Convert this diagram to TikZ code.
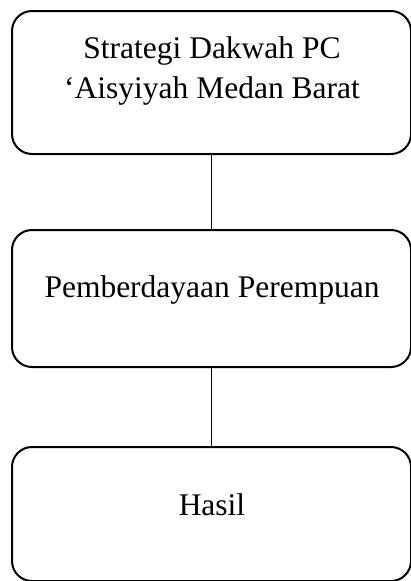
\documentclass[tikz,border=0pt]{standalone}
\usepackage{fontspec}
\setmainfont{Liberation Serif}
\begin{document}
\begin{tikzpicture}[x=1pt,y=-1pt,
  box/.style={draw, line width=2pt, rounded corners=20pt, minimum width=399pt, inner sep=0pt, anchor=north},
  lbl/.style={font=\fontsize{31.5}{40}\selectfont, inner sep=0pt, anchor=base},
  link/.style={draw, line width=1pt}]
\useasboundingbox (0,0) rectangle (410,581);
\node[box, minimum height=143pt] (b1) at (211.5,10) {};
\node[box, minimum height=137pt] (b2) at (211.5,229) {};
\node[box, minimum height=134pt] (b3) at (211.5,446) {};
\node[lbl] (t1a) at (212,58) {Strategi Dakwah PC};
\node[lbl] (t1b) at (212,98) {‘Aisyiyah Medan Barat};
\node[lbl] (t2) at (212,297) {Pemberdayaan Perempuan};
\node[lbl] (t3) at (212,515) {Hasil};
\draw[link] (b1.south) -- (b2.north);
\draw[link] (b2.south) -- (b3.north);
\end{tikzpicture}
\end{document}
